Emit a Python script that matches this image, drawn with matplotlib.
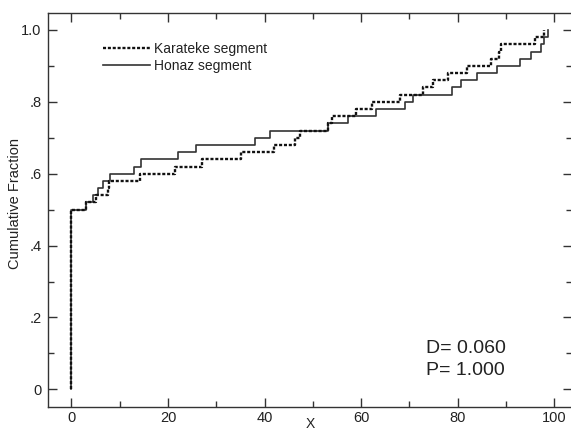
import matplotlib
matplotlib.use('Agg')
import matplotlib.pyplot as plt
import numpy as np

plt.rcParams['font.family'] = ['Liberation Sans', 'DejaVu Sans']
plt.rcParams['lines.scale_dashes'] = False

# ---- data ----
series_names = ['Karateke segment', 'Honaz segment']
karateke_zeros = 25
karateke_values = [3.0, 5.0, 7.5, 7.8, 14.1, 21.4, 27.0, 35.1, 41.9, 46.3, 47.3,
                   53.1, 54.0, 59.0, 62.2, 68.0, 72.9, 74.9, 78.0, 82.0, 87.0,
                   88.5, 88.9, 96.0, 97.8]
honaz_zeros = 25
honaz_values = [3.0, 4.5, 5.5, 6.5, 8.0, 13.0, 14.4, 22.1, 25.9, 38.0, 41.1,
                53.1, 57.2, 63.0, 69.1, 70.8, 78.9, 80.8, 84.0, 88.1, 92.9,
                95.3, 97.2, 98.0, 98.7]
x_ticks = [0, 20, 40, 60, 80, 100]
x_tick_labels = ['0', '20', '40', '60', '80', '100']
y_ticks = [0, 0.2, 0.4, 0.6, 0.8, 1.0]
y_tick_labels = ['0', '.2', '.4', '.6', '.8', '1.0']
stat_lines = ['D= 0.060', 'P= 1.000']


def ecdf(n_zeros, values):
    sample = np.sort(np.r_[np.zeros(n_zeros), np.asarray(values, float)])
    xs, counts = np.unique(sample, return_counts=True)
    ys = np.cumsum(counts) / len(sample)
    return np.r_[xs[0], xs], np.r_[0.0, ys]


W, H = 571, 432
fig = plt.figure(figsize=(W / 100, H / 100), dpi=100)
left_px, right_px, top_px, bottom_px = 48.3, 572.0, 12.7, 406.7
ax = fig.add_axes([left_px / W, 1 - bottom_px / H,
                   (right_px - left_px) / W, (bottom_px - top_px) / H])

ink = '#222222'
xk, yk = ecdf(karateke_zeros, karateke_values)
xh, yh = ecdf(honaz_zeros, honaz_values)
ax.step(xk, yk, where='post', color='#111111', lw=1.7,
        linestyle=(0, (2.2, 1.3)), label=series_names[0], zorder=3)
ax.step(xh, yh, where='post', color='#333333', lw=1.2,
        linestyle='-', label=series_names[1], zorder=2)

ax.set_xlim(-4.8, 103.7)
ax.set_ylim(-0.0484, 1.0481)

ax.set_xticks(x_ticks)
ax.set_xticklabels(x_tick_labels)
ax.set_xticks([10, 30, 50, 70, 90], minor=True)
ax.set_yticks(y_ticks)
ax.set_yticklabels(y_tick_labels)
ax.set_yticks([0.1, 0.3, 0.5, 0.7, 0.9], minor=True)

ax.tick_params(which='both', direction='in', top=True, right=True,
               color='#333333', width=1.0, labelsize=10.5, labelcolor=ink)
ax.tick_params(which='major', length=6.5)
ax.tick_params(which='minor', length=4.5)
ax.tick_params(axis='x', pad=3.0)
ax.tick_params(axis='y', pad=4.8)
for s in ax.spines.values():
    s.set_color('#333333')
    s.set_linewidth(1.0)

ax.set_xlabel('X', fontsize=10, color=ink)
ax.xaxis.set_label_coords(0.5, -0.027)
ax.xaxis.label.set_va('top')
ax.set_ylabel('Cumulative Fraction', fontsize=10.5, color=ink)
ax.yaxis.set_label_coords(-0.05, 0.515)

leg = ax.legend(loc='upper left', bbox_to_anchor=((103 - left_px) / (right_px - left_px),
                                                  (bottom_px - 42) / (bottom_px - top_px)),
                frameon=False, borderpad=0, borderaxespad=0, handlelength=3.4,
                handletextpad=0.25, labelspacing=0.2, fontsize=10)
for t in leg.get_texts():
    t.set_color(ink)

fig.text(426.0 / W, 1 - 353.3 / H, stat_lines[0], fontsize=14, color=ink,
         ha='left', va='baseline')
fig.text(426.0 / W, 1 - 375.0 / H, stat_lines[1], fontsize=14, color=ink,
         ha='left', va='baseline')

fig.savefig('out.png', dpi=100)
